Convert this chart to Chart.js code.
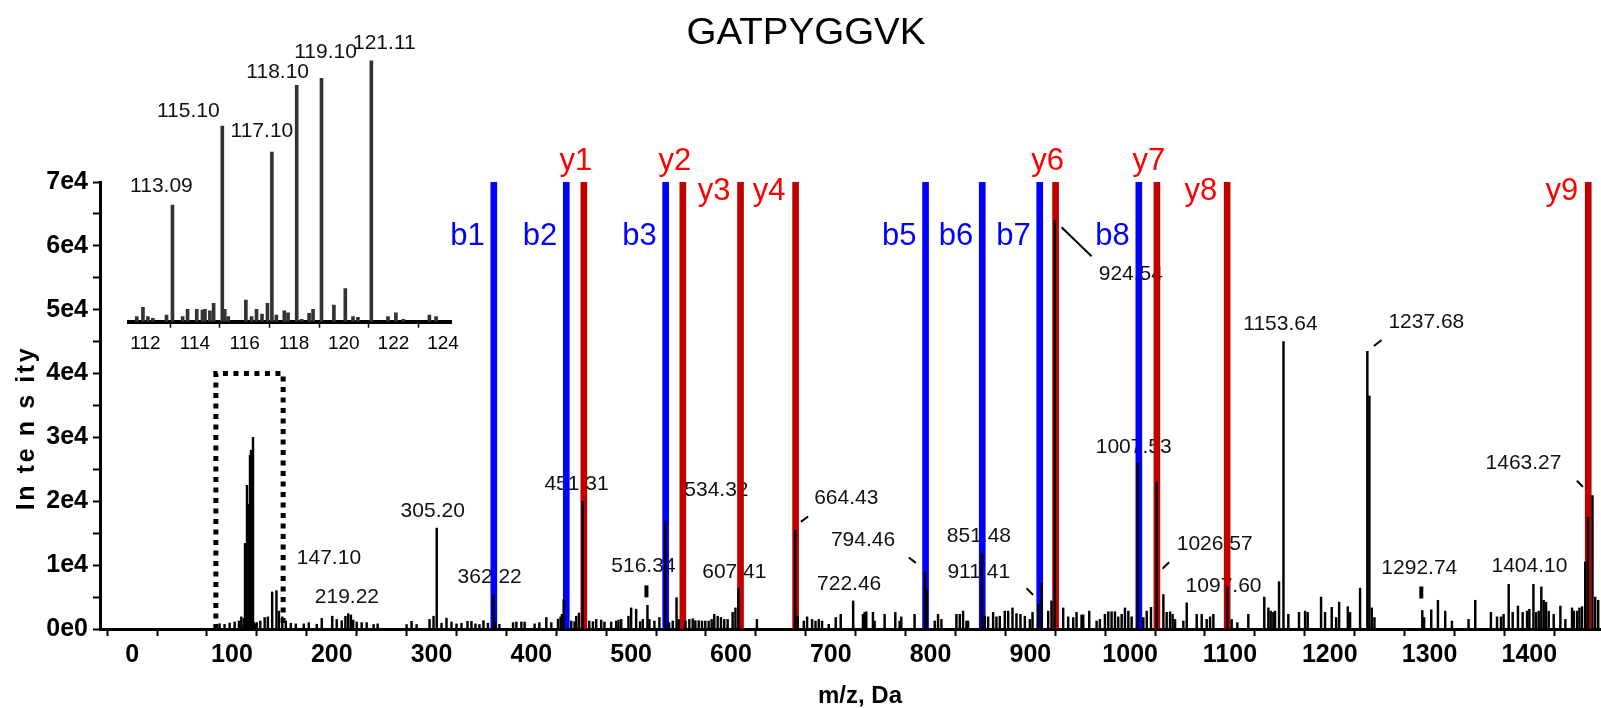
<!DOCTYPE html>
<html>
<head>
<meta charset="utf-8">
<script src="https://cdn.jsdelivr.net/npm/chart.js@4.4.1/dist/chart.umd.min.js"></script>
<style>
  html, body { margin: 0; padding: 0; background: #ffffff; }
  #wrap { position: relative; width: 1601px; height: 708px; overflow: hidden; }
  #main { position: absolute; left: 0; top: 0; }
  #inset { position: absolute; left: 100px; top: 20px; }
</style>
</head>
<body>
<div id="wrap">
  <canvas id="main" width="1601" height="708"></canvas>
  <canvas id="inset" width="380" height="340"></canvas>
</div>
<script>
// ---------------- spectrum data ----------------
const peptide = 'GATPYGGVK';

// reporter-ion window (shown in the inset and in the full spectrum)
const reporterMz = [111.65, 111.9, 112.1, 112.3, 112.85, 113.09, 113.5, 113.7, 114.07, 114.3,
  114.4, 114.6, 114.75, 115.10, 115.2, 115.34, 116.05, 116.28, 116.48, 116.7,
  116.92, 117.10, 117.28, 117.6, 117.75, 118.10, 118.3, 118.6, 118.76, 119.10,
  119.6, 120.06, 120.37, 120.57, 121.11, 121.78, 122.1, 122.4, 123.45, 123.72];
const reporterIntensity = [575, 1650, 575, 380, 770, 13400, 575, 1420, 1420, 1340,
  1420, 1260, 2100, 22500, 1420, 575, 2490, 575, 1420, 880,
  2100, 19500, 770, 1260, 1030, 27200, 270, 960, 1420, 28000,
  1920, 3800, 575, 500, 30000, 575, 1030, 270, 770, 575];

// m/z 80 - 360
const lowMz = [87.6, 92.6, 97.7, 102.7, 107, 109.4, 124.9, 128.4, 132.8, 136,
  140.3, 144.6, 147.10, 150.5, 154, 159, 164, 172, 177, 185, 190,
  200.5, 205, 210, 213.7, 216.5, 219.22, 221.5, 225, 230, 235,
  242, 246, 275, 280, 285, 298, 302, 305.20,
  310, 315, 320, 325, 330, 336, 340, 344, 348, 352, 356.5];
const lowIntensity = [830, 730, 940, 1100, 1250, 1900, 1000, 1250, 1800, 1900,
  5800, 6000, 2800, 1900, 1250, 900, 800, 800, 1000, 750, 1650,
  2000, 1500, 1300, 2000, 2400, 2200, 1400, 1100, 1000, 1000,
  700, 800, 700, 1200, 700, 1500, 2000, 15800,
  900, 1700, 1100, 800, 900, 1200, 1200, 800, 700, 1300, 900];

// m/z 360 - 720
const midMz = [362.22, 363.8, 368, 381.7, 385, 390, 393.3, 403.3, 408, 415,
  420, 426.7, 429.3, 430.7, 432.4, 440, 443.3, 445, 447.7, 451.31,
  458, 461.7, 465, 470, 473.3, 480, 485, 487.3, 490, 497.3,
  500, 505, 509, 511.7, 516.34, 518.3, 523.3, 528.3, 534.32, 538,
  541.7, 545.5, 547.7, 554.5, 558.3, 561.7, 564.3, 567.7, 571, 574.3,
  577.7, 580.7, 583.3, 586.7, 590, 593.3, 596.7, 601.7, 604.5, 607.41,
  626, 664.43, 667, 673, 676.3, 681.3, 684.7, 688, 691.3, 698,
  705, 710];
const midIntensity = [5400, 1000, 730, 1000, 1100, 1100, 1100, 800, 1000, 1800,
  1000, 1550, 1900, 2300, 4600, 1250, 1150, 2000, 2500, 20000,
  1250, 1150, 1500, 1400, 1100, 1100, 1250, 1400, 1500, 2000,
  3300, 3100, 1150, 1500, 3700, 1500, 1250, 1800, 16800, 1000,
  1250, 4900, 1500, 1250, 1500, 1600, 1300, 1300, 1250, 1250,
  1250, 1500, 2300, 2000, 1800, 1500, 1500, 2600, 3300, 6300,
  1500, 15500, 2000, 1250, 1900, 1500, 1250, 1500, 1250, 730,
  1800, 2300];

// m/z 720 - 1100
const highMz = [722.46, 732.3, 734, 735.6, 742.3, 744, 754, 764.7, 769, 770.7,
  784, 794.46, 796, 804.2, 807.5, 810.9, 825.9, 829.3, 832.6, 836,
  837.6, 851.48, 854.3, 857.7, 862.7, 866, 869.4, 874.4, 877.8, 882.1,
  886.1, 890.1, 894.5, 899.5, 902.2, 908.0, 911.41, 917.9, 921.2, 924.54,
  932.9, 937.9, 943, 946.3, 951.3, 953, 959, 966.4, 969.7, 974.7,
  978.1, 981.4, 984.8, 988.1, 991.5, 994.8, 998.2, 1001.5, 1007.53, 1013.2,
  1016.6, 1020.9, 1026.57, 1033.3, 1036.6, 1040, 1042.6, 1045, 1053.3, 1056.7,
  1066.7, 1071.7, 1076.7, 1080.1, 1083.4, 1097.60];
const highIntensity = [4400, 2300, 2600, 2700, 2600, 1250, 2300, 2600, 1250, 1900,
  2300, 8900, 6200, 1250, 2300, 1500, 2300, 2300, 2800, 1250,
  1250, 11900, 2000, 1900, 2600, 1900, 2000, 2800, 2800, 3300,
  2400, 2300, 2000, 1500, 2600, 3900, 7200, 2800, 4400, 64000,
  3300, 1900, 1800, 2600, 2200, 2200, 2800, 1250, 1500, 2300,
  2700, 2700, 2700, 1900, 2300, 3300, 2800, 1900, 26000, 1800,
  2800, 3400, 23000, 5400, 2600, 2700, 2300, 1500, 1250, 4100,
  2300, 2300, 1500, 1900, 2300, 6600];

// m/z 1100 - 1470
const topMz = [1101.7, 1107.4, 1118.4, 1134.4, 1138.5, 1140.8, 1143.5, 1145.2, 1149.2, 1153.64,
  1158.5, 1169.2, 1175.3, 1177.9, 1191.3, 1195.3, 1202, 1206.4, 1209.4, 1218.1,
  1220.4, 1230.4, 1237.68, 1239.7, 1242.1, 1244.8, 1292.74, 1294.5, 1301.7, 1308.4,
  1315.7, 1322.4, 1339.1, 1345.8, 1361.5, 1367.6, 1371.6, 1374.2, 1379.3, 1383.3,
  1388.6, 1393.3, 1397.7, 1400, 1404.10, 1406.7, 1409.4, 1412, 1414.4, 1416.7,
  1419.4, 1424.4, 1431.1, 1436.1, 1442.8, 1444.5, 1447.8, 1450.2, 1452.8, 1456,
  1458.7, 1463.27, 1466, 1469];
const topIntensity = [1500, 1000, 2300, 5000, 3300, 2800, 2600, 2800, 7400, 45000,
  2300, 2600, 2800, 2600, 5000, 2600, 3400, 1800, 4200, 3500,
  2600, 6400, 43500, 36500, 3300, 1800, 2900, 1800, 3000, 4500,
  2800, 1250, 1500, 4500, 2600, 1900, 1900, 2300, 7000, 2600,
  3600, 2600, 2800, 3100, 7000, 2600, 2800, 6600, 4500, 4200,
  2800, 2300, 3600, 1500, 3300, 2800, 2800, 3300, 3500, 10500,
  17500, 20900, 5000, 4500];

// annotated peaks (label text is the m/z value)
const labelledMz = [147.10, 219.22, 305.20, 362.22, 451.31, 516.34, 534.32, 607.41, 664.43, 722.46,
  794.46, 851.48, 911.41, 924.54, 1007.53, 1026.57, 1097.60, 1153.64, 1237.68, 1292.74,
  1404.10, 1463.27];
const insetLabelledMz = [113.09, 115.10, 117.10, 118.10, 119.10, 121.11];

// fragment ion assignments
const bIonNames = ['b1', 'b2', 'b3', 'b5', 'b6', 'b7', 'b8'];
const bIonMz = [362.4, 435.0, 534.6, 795.0, 851.8, 909.4, 1008.7];
const yIonNames = ['y1', 'y2', 'y3', 'y4', 'y6', 'y7', 'y8', 'y9'];
const yIonMz = [452.6, 551.8, 609.6, 664.8, 925.3, 1026.8, 1097.2, 1459.0];

// zoom window drawn around the reporter region
const windowMz = [83.9, 151.3];
const windowIntensity = 40000;

// axes
const mzRange = [-32.2, 1471.8];
const mzTickStep = 50;
const mzLabelStep = 100;
const intensityMax = 70000;
const intensityTickStep = 5000;
const intensityLabelStep = 10000;
const insetMzRange = [111.35, 124.35];
const insetMzTickStep = 2;

// ---------------- layout of the annotations (pixel offsets from the peak top) ----------------
const labelLayout = {
  '147.10': [50, -53], '219.22': [-4, -18], '305.20': [-4, -17], '362.22': [-4, -17],
  '451.31': [-6, -17], '516.34': [-4, -39], '534.32': [51, -32], '607.41': [-4, -17],
  '664.43': [51, -32], '722.46': [-4, -17], '794.46': [-62, -32], '851.48': [-3, -17],
  '911.41': [-63, -11], '924.54': [76, 54], '1007.53': [-4, -16], '1026.57': [58, 62],
  '1097.60': [-4, -1], '1153.64': [-3, -17], '1237.68': [59, -29], '1292.74': [-3, -42],
  '1404.10': [-4, -18], '1463.27': [-69, -32]
};
const leaderLayout = {
  '664.43': [5.6, -8.2, 12.9, -13.5], '794.46': [-16.2, -14.6, -9.2, -9.3],
  '911.41': [-15.2, 5.2, -8.6, 11.9], '924.54': [6.7, 7, 36.7, 36],
  '1026.57': [5.9, 86.5, 12.5, 80.2], '1237.68': [6.5, -5.2, 14.2, -11.2],
  '1463.27': [-15.6, -14.8, -9.6, -8.8]
};
const markLayout = { '516.34': [-1, -20, -8], '1292.74': [-1, -24, -12] };
const insetLabelLayout = {
  '113.09': [-11, -19], '115.10': [-34, -15], '117.10': [-10, -21],
  '118.10': [-19, -13], '119.10': [4, -26], '121.11': [13, -18]
};
const yIonPlacement = { y1: 'above', y2: 'above', y6: 'above', y7: 'above', y3: 'side', y4: 'side', y8: 'side', y9: 'side' };

// ---------------- helpers ----------------
const allMz = [].concat(reporterMz, lowMz, midMz, highMz, topMz);
const allIntensity = [].concat(reporterIntensity, lowIntensity, midIntensity, highIntensity, topIntensity);
const points = (xs, ys) => xs.map((x, i) => ({ x: x, y: Array.isArray(ys) ? ys[i] : ys }));
const intensityAt = (mz, xs, ys) => ys[xs.findIndex(v => Math.abs(v - mz) < 1e-6)];

const FONT = "'Liberation Sans', Arial, sans-serif";

function text(ctx, str, x, y, font, color, align, baseline, stretch, spacing) {
  ctx.save();
  ctx.font = font;
  ctx.fillStyle = color;
  ctx.textAlign = align || 'center';
  ctx.textBaseline = baseline || 'middle';
  if (spacing) ctx.letterSpacing = spacing;
  ctx.translate(x, y);
  if (stretch) ctx.scale(stretch, 1);
  ctx.fillText(str, 0, 0);
  ctx.restore();
}

// peak labels, leader lines and clipped-peak marks (drawn under the ion bars)
const peakAnnotations = {
  id: 'peakAnnotations',
  beforeDatasetsDraw(chart) {
    const { ctx, scales: { x, y } } = chart;
    ctx.save();
    labelledMz.forEach(mz => {
      const key = mz.toFixed(2);
      const px = x.getPixelForValue(mz);
      const py = y.getPixelForValue(intensityAt(mz, allMz, allIntensity));
      const off = labelLayout[key];
      text(ctx, key, px + off[0], py + off[1], '21px ' + FONT, '#111111');
      const ld = leaderLayout[key];
      if (ld) {
        ctx.strokeStyle = '#000000';
        ctx.lineWidth = 2;
        ctx.beginPath();
        ctx.moveTo(px + ld[0], py + ld[1]);
        ctx.lineTo(px + ld[2], py + ld[3]);
        ctx.stroke();
      }
      const mk = markLayout[key];
      if (mk) {
        ctx.fillStyle = '#000000';
        ctx.fillRect(px + mk[0] - 2, py + mk[1], 4, mk[2] - mk[1]);
      }
    });
    ctx.restore();
  },
  afterDatasetsDraw(chart) {
    const { ctx, scales: { x, y } } = chart;
    const top = y.getPixelForValue(intensityMax);
    bIonNames.forEach((name, i) => {
      const px = x.getPixelForValue(bIonMz[i]);
      text(ctx, name, px - 9, top + 63, '31px ' + FONT, '#0000ff', 'right', 'alphabetic');
    });
    yIonNames.forEach((name, i) => {
      const px = x.getPixelForValue(yIonMz[i]);
      if (yIonPlacement[name] === 'above') {
        text(ctx, name, px - 8, top - 12, '31px ' + FONT, '#ff0000', 'center', 'alphabetic');
      } else {
        text(ctx, name, px - 10, top + 18, '31px ' + FONT, '#ff0000', 'right', 'alphabetic');
      }
    });
    // title and axis titles
    text(ctx, peptide, 806, 34, '36px ' + FONT, '#000000', 'center', 'middle', 1.07);
    text(ctx, 'm/z, Da', 860, 696, 'bold 24px ' + FONT, '#000000');
    ctx.save();
    ctx.translate(27, 428);
    ctx.rotate(-Math.PI / 2);
    text(ctx, 'In te n s ity', 0, 0, 'bold 25px ' + FONT, '#000000', 'center', 'middle', null, '2.6px');
    ctx.restore();
  }
};

// ---------------- full spectrum ----------------
new Chart(document.getElementById('main'), {
  type: 'bar',
  data: {
    datasets: [
      { label: 'peaks', data: points(allMz, allIntensity), backgroundColor: '#000000',
        barThickness: 1.8, grouped: false, borderWidth: 0, order: 1 },
      { label: 'b ions', data: points(bIonMz, intensityMax), backgroundColor: '#0000ff',
        barThickness: 6, grouped: false, borderWidth: 0, order: 2 },
      { label: 'y ions', data: points(yIonMz, intensityMax), backgroundColor: '#c00000',
        barThickness: 6, grouped: false, borderWidth: 0, order: 2 },
      { type: 'line', label: 'window',
        data: [{ x: windowMz[0], y: 0 }, { x: windowMz[0], y: windowIntensity },
               { x: windowMz[1], y: windowIntensity }, { x: windowMz[1], y: 0 }],
        borderColor: '#000000', borderWidth: 5, borderDash: [5, 5.5], borderCapStyle: 'butt',
        pointRadius: 0, fill: false, tension: 0, order: 0 }
    ]
  },
  options: {
    responsive: false, animation: false, devicePixelRatio: 1, events: [],
    layout: { padding: { top: 182, right: 0, bottom: 0, left: 0 } },
    plugins: { legend: { display: false }, tooltip: { enabled: false }, title: { display: false } },
    scales: {
      x: {
        type: 'linear', min: mzRange[0], max: mzRange[1], offset: false,
        afterFit(s) { s.height = 79; },
        border: { display: true, width: 3, color: '#000000' },
        grid: { display: true, drawOnChartArea: false, drawTicks: true, tickLength: 7, tickWidth: 2, tickColor: '#000000' },
        ticks: {
          stepSize: mzTickStep, includeBounds: false, autoSkip: false, maxRotation: 0, minRotation: 0,
          padding: 4, color: '#000000', font: { family: FONT, size: 25, weight: 'bold' },
          callback: v => (Math.round(v) % mzLabelStep === 0 ? String(Math.round(v)) : '')
        }
      },
      y: {
        type: 'linear', min: 0, max: intensityMax,
        afterFit(s) { s.width = 100; },
        border: { display: true, width: 3, color: '#000000' },
        grid: { display: true, drawOnChartArea: false, drawTicks: true, tickLength: 7, tickWidth: 2, tickColor: '#000000' },
        ticks: {
          stepSize: intensityTickStep, autoSkip: false, padding: 5, color: '#000000',
          font: { family: FONT, size: 25, weight: 'bold' },
          callback: v => (v % intensityLabelStep === 0 ? (v === 0 ? '0e0' : (v / 10000) + 'e4') : '')
        }
      }
    }
  },
  plugins: [peakAnnotations]
});

// ---------------- reporter-ion inset ----------------
const insetAnnotations = {
  id: 'insetAnnotations',
  afterDatasetsDraw(chart) {
    const { ctx, scales: { x, y } } = chart;
    insetLabelledMz.forEach(mz => {
      const key = mz.toFixed(2);
      const px = x.getPixelForValue(mz);
      const py = y.getPixelForValue(intensityAt(mz, reporterMz, reporterIntensity));
      const off = insetLabelLayout[key];
      text(ctx, key, px + off[0], py + off[1], '21px ' + FONT, '#111111');
    });
  }
};

new Chart(document.getElementById('inset'), {
  type: 'bar',
  data: {
    datasets: [
      { label: 'reporter ions', data: points(reporterMz, reporterIntensity), backgroundColor: '#333333',
        barThickness: 3, grouped: false, borderWidth: 0 }
    ]
  },
  options: {
    responsive: false, animation: false, devicePixelRatio: 1, events: [],
    layout: { padding: { top: 20, right: 28.3, bottom: 0, left: 29.3 } },
    plugins: { legend: { display: false }, tooltip: { enabled: false } },
    scales: {
      x: {
        type: 'linear', min: insetMzRange[0], max: insetMzRange[1], offset: false,
        afterFit(s) { s.height = 38.3; },
        border: { display: true, width: 4, color: '#000000' },
        grid: { display: true, drawOnChartArea: false, drawTicks: true, tickLength: 6, tickWidth: 1.5, tickColor: '#000000' },
        ticks: {
          stepSize: insetMzTickStep, includeBounds: false, autoSkip: false, maxRotation: 0, minRotation: 0,
          padding: 5, color: '#000000', font: { family: FONT, size: 19 }
        }
      },
      y: { display: false, min: 0, max: 32400 }
    }
  },
  plugins: [insetAnnotations]
});
</script>
</body>
</html>
